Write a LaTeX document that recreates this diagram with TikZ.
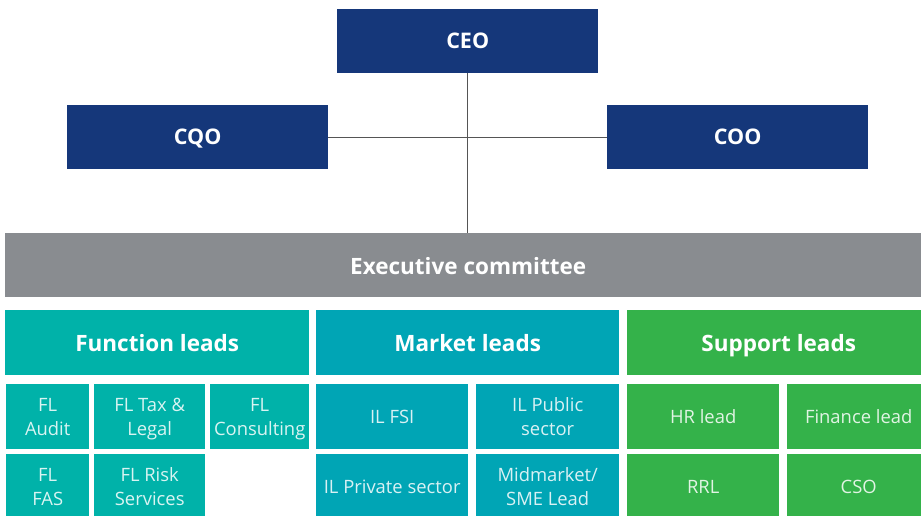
\documentclass[tikz,border=0pt]{standalone}
\usepackage{fontspec}
\setmainfont{Open Sans}
\definecolor{navy}{HTML}{15377A}
\definecolor{execgray}{HTML}{898C90}
\definecolor{functeal}{HTML}{00B2A9}
\definecolor{markteal}{HTML}{00A5B5}
\definecolor{suppgreen}{HTML}{34B24A}
\definecolor{linegray}{HTML}{555555}
\begin{document}
\begin{tikzpicture}[x=1pt,y=-1pt,
  box/.style={rectangle, inner sep=0pt, anchor=north west, align=center},
  topbox/.style={box, fill=navy, text=white, minimum width=261pt, minimum height=64pt, text height=16pt, text depth=1.4pt, font=\fontsize{21.5}{26}\selectfont\bfseries},
  headbox/.style={box, text=white, minimum height=65pt, text height=19pt, text depth=2pt, font=\fontsize{22.5}{27}\selectfont\bfseries},
  subbox/.style={box, minimum height=65pt, text depth=0pt, font=\fontsize{18.4}{24}\selectfont},
  fsub/.style={subbox, fill=functeal, text=white!85!functeal},
  msub/.style={subbox, fill=markteal, text=white!85!markteal},
  ssub/.style={subbox, fill=suppgreen, text=white!85!suppgreen},
  conn/.style={draw=linegray, line width=1pt}
]
\useasboundingbox (0,0) rectangle (921,516);
% top level
\node[topbox] (ceo) at (337,9) {CEO};
\node[topbox] (cqo) at (67,105) {CQO};
\node[topbox] (coo) at (607,105) {COO};
\node[box, fill=execgray, text=white, minimum width=926pt, minimum height=64pt, text height=20pt, text depth=1.4pt, font=\fontsize{22.5}{27}\selectfont\bfseries] (exec) at (5,233) {Executive committee};
% connectors
\draw[conn] (ceo.south) -- (ceo.south |- exec.north);
\draw[conn] (cqo.east) -- (coo.west);
% function leads
\node[headbox, fill=functeal, minimum width=304pt] (fhead) at (5,310) {Function leads};
\node[fsub, minimum width=83pt] (flaudit) at (6,384) {FL\\Audit};
\node[fsub, minimum width=111pt] (fltax) at (94,384) {FL Tax \&\\Legal};
\node[fsub, minimum width=99pt] (flcons) at (210,384) {FL\\Consulting};
\node[fsub, minimum width=83pt] (flfas) at (6,454) {FL\\FAS};
\node[fsub, minimum width=111pt] (flrisk) at (94,454) {FL Risk\\Services};
% market leads
\node[headbox, fill=markteal, minimum width=303pt] (mhead) at (316,310) {Market leads};
\node[msub, minimum width=152pt] (ilfsi) at (316,384) {IL FSI};
\node[msub, minimum width=143pt] (ilpub) at (476,384) {IL Public\\sector};
\node[msub, minimum width=152pt] (ilpriv) at (316,454) {IL Private sector};
\node[msub, minimum width=143pt] (midm) at (476,454) {Midmarket/\\SME Lead};
% support leads
\node[headbox, fill=suppgreen, minimum width=303pt] (shead) at (627,310) {Support leads};
\node[ssub, minimum width=152pt] (hr) at (627,384) {HR lead};
\node[ssub, minimum width=143pt] (fin) at (787,384) {Finance lead};
\node[ssub, minimum width=152pt] (rrl) at (627,454) {RRL};
\node[ssub, minimum width=143pt] (cso) at (787,454) {CSO};
\end{tikzpicture}
\end{document}
